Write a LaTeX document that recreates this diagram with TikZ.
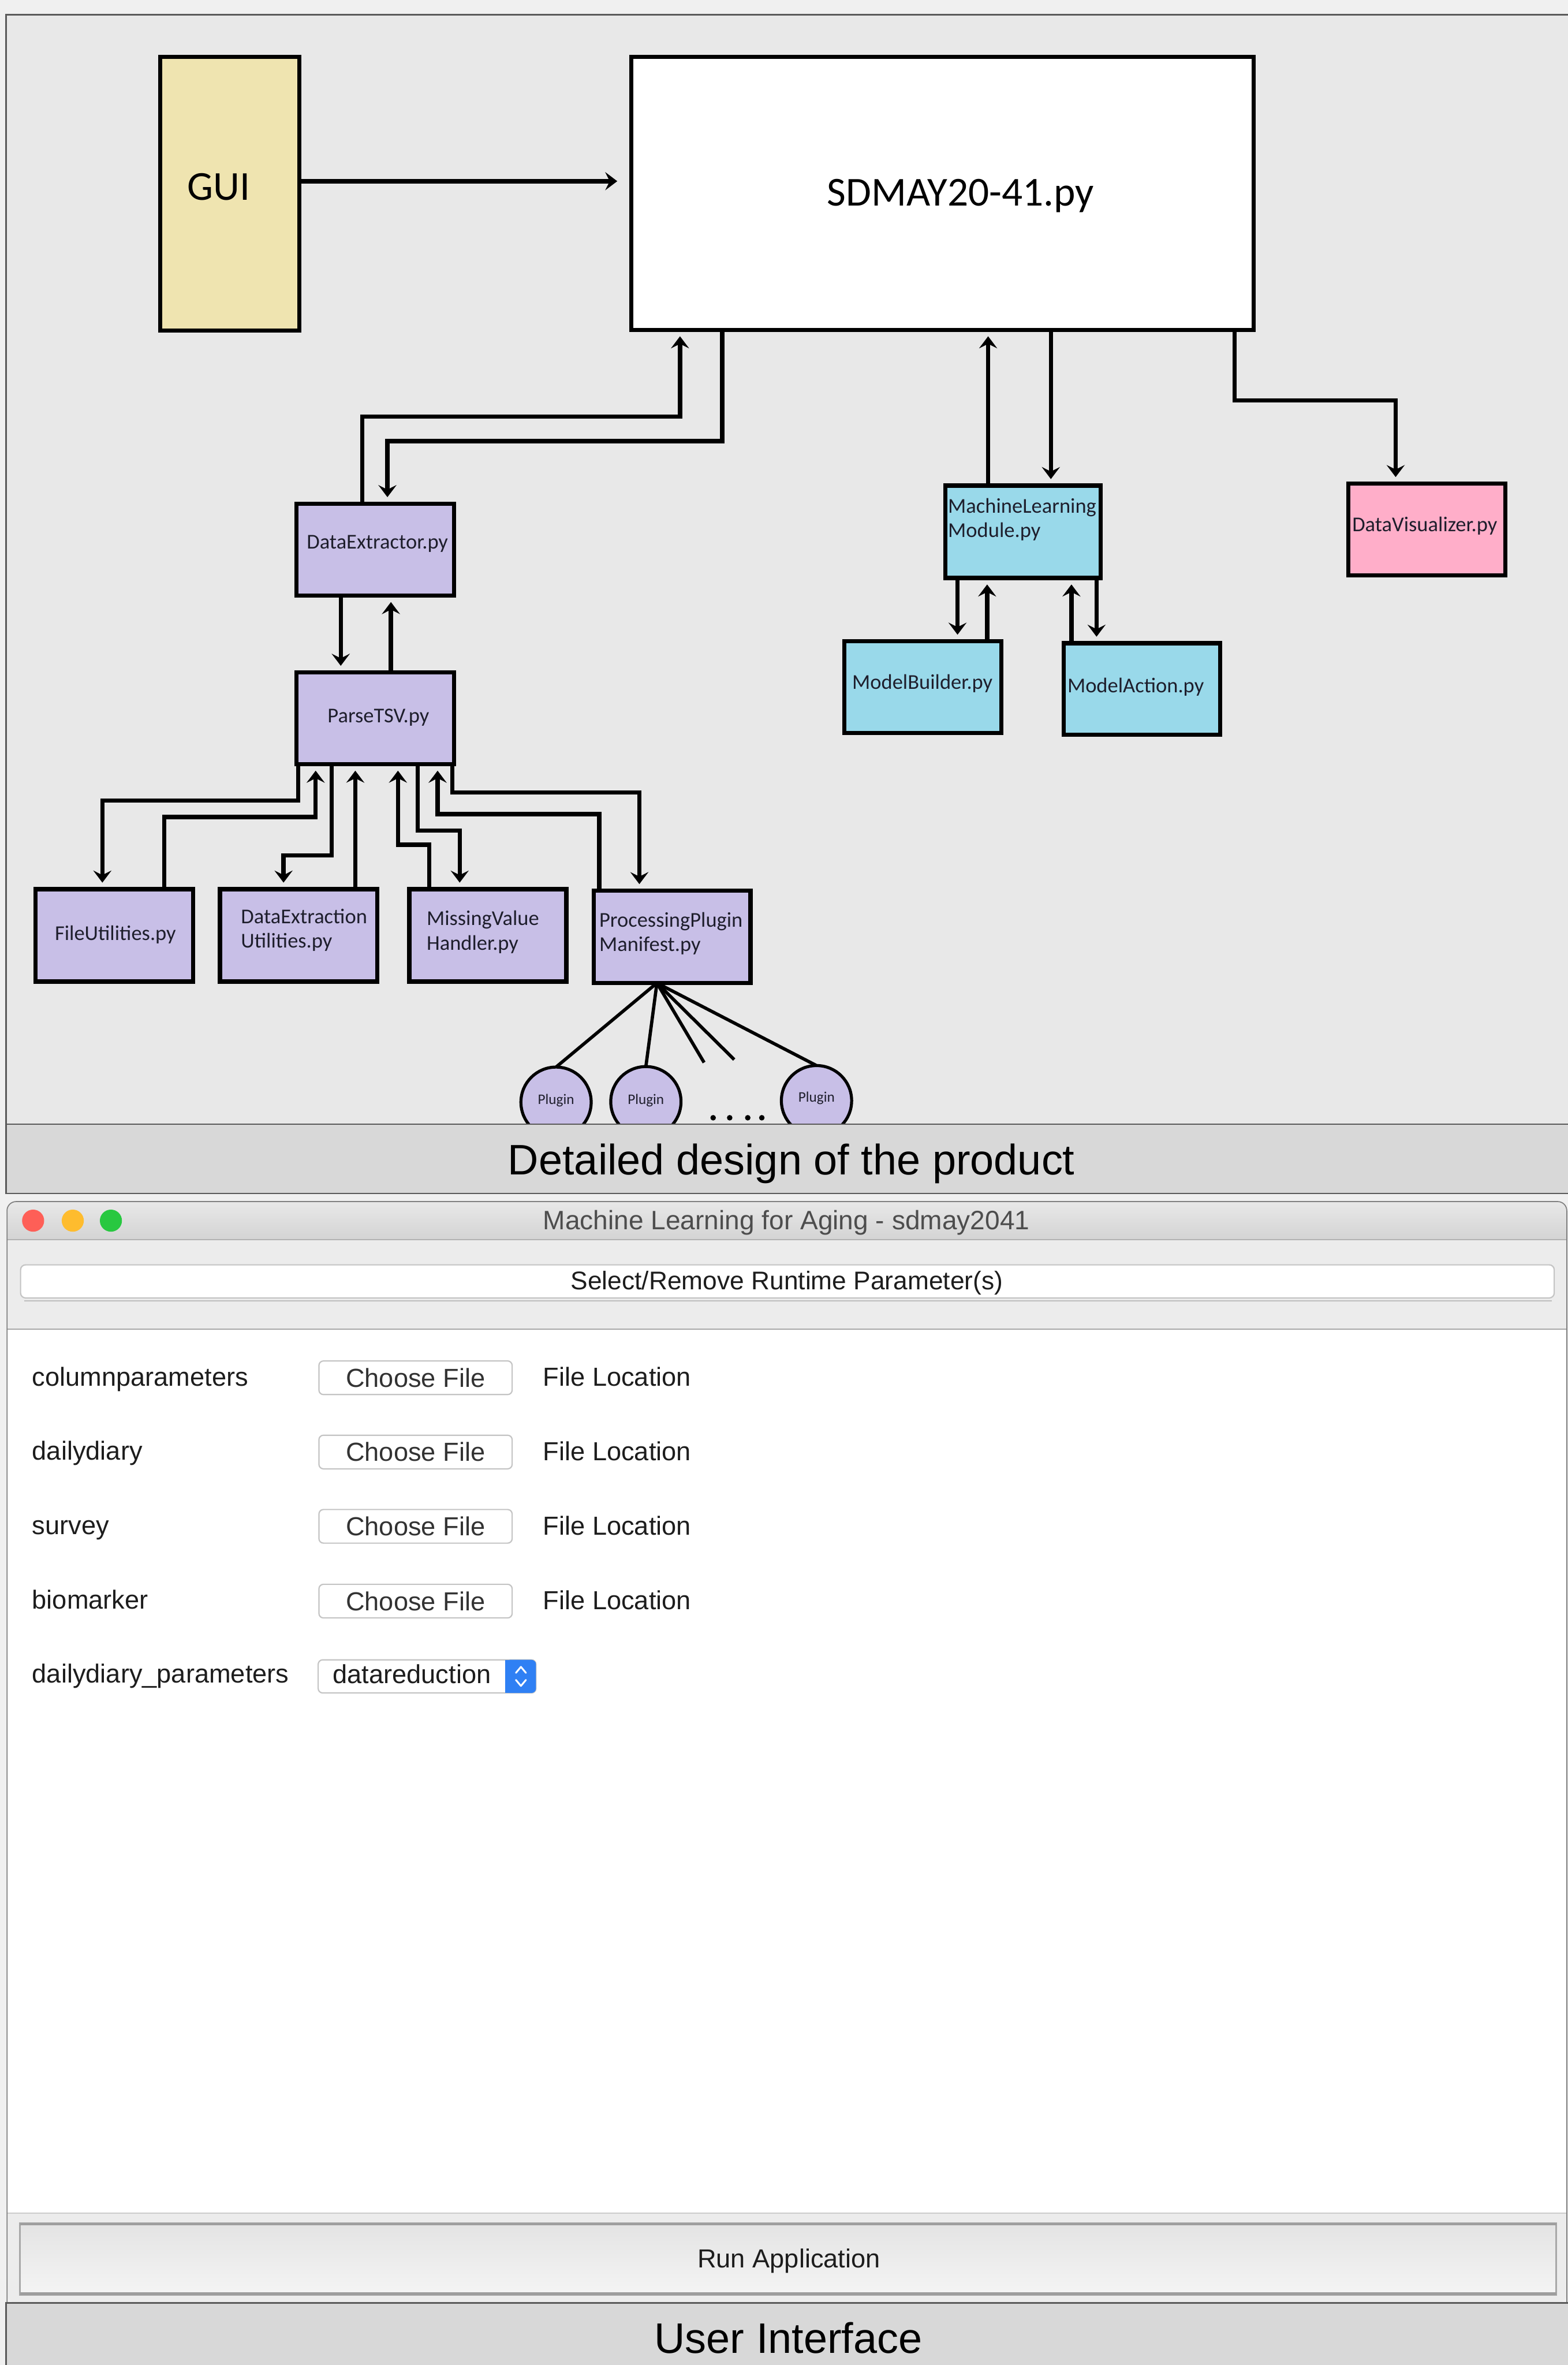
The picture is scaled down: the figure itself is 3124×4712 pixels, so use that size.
\documentclass[tikz,border=0pt]{standalone}
\usepackage{fontspec}
\setmainfont{Liberation Sans}
\newfontfamily\calib{Carlito}
\usetikzlibrary{arrows.meta,calc}
\definecolor{pagebg}{HTML}{F0F0F0}
\definecolor{diagbg}{HTML}{E8E8E8}
\definecolor{bandbg}{HTML}{D8D8D8}
\definecolor{bandline}{HTML}{5A5A5A}
\definecolor{guiyel}{HTML}{EFE4B0}
\definecolor{lav}{HTML}{C8BFE7}
\definecolor{skyb}{HTML}{99D9EA}
\definecolor{pinkc}{HTML}{FFAEC9}
\definecolor{boxtext}{HTML}{1E1E2C}
\definecolor{uitext}{HTML}{1D1D1D}
\definecolor{uibtntext}{HTML}{333333}
\definecolor{uititle}{HTML}{4D4D4D}
\definecolor{uibord}{HTML}{C4C4C4}
\definecolor{uipanel}{HTML}{ECECEC}
\definecolor{ddblue}{HTML}{2F80F4}
\definecolor{tlred}{HTML}{FE5F57}
\definecolor{tlyel}{HTML}{FEBC2E}
\definecolor{tlgrn}{HTML}{28C840}
\tikzset{
  box/.style={draw=black, line width=8.5pt, inner sep=0pt, outer sep=0pt},
  bigbox/.style={draw=black, line width=8pt, inner sep=0pt, outer sep=0pt},
  conn/.style={draw=black, line width=8.5pt},
  arr/.style={-{Stealth[length=24pt,width=36pt,inset=9pt]}, shorten >=13pt},
  dtext/.style={font=\calib\fontsize{42}{49}\selectfont, text=boxtext, inner sep=0pt, align=left},
  bigtext/.style={font=\calib\fontsize{82}{96}\selectfont, text=black, inner sep=0pt},
  plug/.style={draw=black, fill=lav, line width=6pt, circle, inner sep=0pt, outer sep=0pt, minimum size=140pt},
  plugtext/.style={font=\calib\fontsize{29}{34}\selectfont, text=boxtext, inner sep=0pt},
  plugline/.style={draw=black, line width=6.5pt},
  captext/.style={font=\fontsize{85}{100}\selectfont, text=black, inner sep=0pt, anchor=base},
  uilabel/.style={font=\fontsize{52}{60}\selectfont, text=uitext, inner sep=0pt, anchor=base west},
  uibtn/.style={draw=uibord, fill=white, line width=2.5pt, rounded corners=9pt, minimum width=385pt, minimum height=67pt, inner sep=0pt, font=\fontsize{52}{60}\selectfont, text=uibtntext},
}
\begin{document}
\begin{tikzpicture}[x=1pt,y=-1pt]
\useasboundingbox (0,0) rectangle (3124,4712);
% page and panel backgrounds
\fill[pagebg] (0,0) rectangle (3124,4712);
\fill[diagbg] (12,29) rectangle (3124,2240);
\draw[bandline, line width=3pt] (3124,29) -- (12,29) -- (12,2240);

% ---- diagram boxes ----
\node[bigbox, fill=guiyel, minimum width=278pt, minimum height=546pt] (gui) at (458,386) {};
\node[bigtext] (guit) at (436,372) {GUI};
\node[bigbox, fill=white, minimum width=1240pt, minimum height=544pt] (sd) at (1878,385) {};
\node[bigtext] (sdt) at (1914,390) {SDMAY20-41.py};

\node[box, fill=lav, minimum width=314pt, minimum height=183pt] (de) at (747.5,1095) {};
\node[dtext] (det) at (752,1083) {DataExtractor.py};
\node[box, fill=lav, minimum width=314pt, minimum height=183pt] (pt) at (747.5,1431) {};
\node[dtext] (ptt) at (754,1429) {ParseTSV.py};

\node[box, fill=lav, minimum width=314pt, minimum height=184pt] (fu) at (227.5,1863.5) {};
\node[dtext] (fut) at (230,1862) {FileUtilities.py};
\node[box, fill=lav, minimum width=313pt, minimum height=184pt] (deu) at (595,1863.5) {};
\node[dtext, anchor=west] (deut) at (480,1853) {DataExtraction\\Utilities.py};
\node[box, fill=lav, minimum width=313pt, minimum height=184pt] (mvh) at (972,1863.5) {};
\node[dtext, anchor=west] (mvht) at (850,1857) {MissingValue\\Handler.py};
\node[box, fill=lav, minimum width=312pt, minimum height=184pt] (ppm) at (1339.5,1866.5) {};
\node[dtext, anchor=west] (ppmt) at (1194,1860) {ProcessingPlugin\\Manifest.py};

\node[box, fill=skyb, minimum width=310pt, minimum height=184pt] (ml) at (2038.5,1059.5) {};
\node[dtext, anchor=west] (mlt) at (1889,1035) {MachineLearning\\Module.py};
\node[box, fill=pinkc, minimum width=313pt, minimum height=183pt] (dv) at (2843,1055) {};
\node[dtext] (dvt) at (2839,1048) {DataVisualizer.py};
\node[box, fill=skyb, minimum width=313pt, minimum height=183pt] (mb) at (1839,1369) {};
\node[dtext] (mbt) at (1838,1362) {ModelBuilder.py};
\node[box, fill=skyb, minimum width=312pt, minimum height=182pt] (ma) at (2275.5,1372.5) {};
\node[dtext] (mat) at (2263,1369) {ModelAction.py};

% ---- connectors ----
\draw[conn,arr,shorten >=28pt] (gui.east |- 0,361) -- (sd.west |- 0,361);
\draw[conn,arr] (de.north -| 722,0) |- (1355,830) -- (sd.south -| 1355,0);
\draw[conn,arr] (sd.south -| 1439,0) |- (772,879) -- (de.north -| 772,0);
\draw[conn,arr] (de.south -| 679,0) -- (pt.north -| 679,0);
\draw[conn,arr] (pt.north -| 779,0) -- (de.south -| 779,0);

\draw[conn,arr] (pt.south -| 594,0) |- (204,1595) -- (fu.north -| 204,0);
\draw[conn,arr] (fu.north -| 327,0) |- (629,1628) -- (pt.south -| 629,0);
\draw[conn,arr] (pt.south -| 661,0) |- (565,1704) -- (deu.north -| 565,0);
\draw[conn,arr] (deu.north -| 708,0) -- (pt.south -| 708,0);
\draw[conn,arr] (mvh.north -| 855,0) |- (793,1683) -- (pt.south -| 793,0);
\draw[conn,arr] (pt.south -| 832,0) |- (916,1655) -- (mvh.north -| 916,0);
\draw[conn,arr] (ppm.north -| 1194,0) |- (872,1622) -- (pt.south -| 872,0);
\draw[conn,arr] (pt.south -| 901,0) |- (1274,1579) -- (ppm.north -| 1274,0);

\draw[conn,arr] (ml.north -| 1969,0) -- (sd.south -| 1969,0);
\draw[conn,arr] (sd.south -| 2094,0) -- (ml.north -| 2094,0);
\draw[conn,arr] (sd.south -| 2460,0) |- (2781,798) -- (dv.north -| 2781,0);
\draw[conn,arr] (ml.south -| 1908,0) -- (mb.north -| 1908,0);
\draw[conn,arr] (mb.north -| 1967,0) -- (ml.south -| 1967,0);
\draw[conn,arr] (ma.north -| 2135,0) -- (ml.south -| 2135,0);
\draw[conn,arr] (ml.south -| 2185,0) -- (ma.north -| 2185,0);

% ---- plugins ----
\node[plug] (p1) at (1108,2196) {};
\node[plugtext] (p1t) at (1108,2193) {Plugin};
\node[plug] (p2) at (1287,2195) {};
\node[plugtext] (p2t) at (1287,2193) {Plugin};
\node[plug] (p3) at (1627,2193) {};
\node[plugtext] (p3t) at (1627,2188) {Plugin};
\coordinate (fan) at (1309,1963);
\coordinate (f1) at (1403,2117);
\coordinate (f2) at (1463,2111);
\draw[plugline] (ppm.south -| fan) -- (p1.north);
\draw[plugline] (ppm.south -| fan) -- (p2.north);
\draw[plugline] (ppm.south -| fan) -- (f1);
\draw[plugline] (ppm.south -| fan) -- (f2);
\draw[plugline] (ppm.south -| fan) -- (p3.north);
\foreach \dx in {1421,1454,1490,1518} \fill[black] (\dx,2227) circle (5.5pt);

% ---- caption band 1 ----
\fill[bandbg] (12,2240) rectangle (3124,2378);
\draw[bandline, line width=3pt] (3124,2240) -- (12,2240) -- (12,2378) -- (3124,2378);
\node[captext] (cap1) at (1577,2340) {Detailed design of the product};

% ---- window ----
\fill[uipanel, rounded corners=18pt] (14,2394) rectangle (3122,4588);
\shade[top color=white!91!black, bottom color=white!83!black] (14,2470) [rounded corners=18pt] -- (14,2394) -- (3122,2394) [sharp corners] -- (3122,2470) -- cycle;
\draw[white!70!black, line width=2pt] (14,2470) -- (3122,2470);
\fill[tlred] (66,2432) circle (22pt);
\fill[tlyel] (145,2432) circle (22pt);
\fill[tlgrn] (221,2432) circle (22pt);
\node[font=\fontsize{53}{60}\selectfont, text=uititle, inner sep=0pt, anchor=base] (wtitle) at (1567,2450) {Machine Learning for Aging - sdmay2041};

\draw[white!74!black, line width=3pt] (48,2592) -- (3092,2592);
\node[draw=uibord, fill=white, line width=2.5pt, rounded corners=10pt, minimum width=3056pt, minimum height=66pt, inner sep=0pt] (selbtn) at (1569,2553) {};
\node[font=\fontsize{51}{60}\selectfont, text=uitext, inner sep=0pt, anchor=base] (seltext) at (1568,2569) {Select/Remove Runtime Parameter(s)};

\fill[white] (14,2648) rectangle (3122,4409);
\draw[white!66!black, line width=3pt] (14,2648) -- (3122,2648);
\draw[white!80!black, line width=2pt] (14,4409) -- (3122,4409);

% rows
\node[uilabel] (l1) at (64,2761) {columnparameters};
\node[uibtn] (b1) at (828,2745) {Choose File};
\node[uilabel] (fl1) at (1082,2762) {File Location};
\node[uilabel] (l2) at (64,2909) {dailydiary};
\node[uibtn] (b2) at (828,2893) {Choose File};
\node[uilabel] (fl2) at (1082,2910) {File Location};
\node[uilabel] (l3) at (64,3057) {survey};
\node[uibtn] (b3) at (828,3041) {Choose File};
\node[uilabel] (fl3) at (1082,3058) {File Location};
\node[uilabel] (l4) at (64,3205) {biomarker};
\node[uibtn] (b4) at (828,3190) {Choose File};
\node[uilabel] (fl4) at (1082,3207) {File Location};
\node[uilabel] (l5) at (64,3353) {dailydiary\_parameters};
\node[draw=uibord, fill=white, line width=2.5pt, rounded corners=9pt, minimum width=434pt, minimum height=66pt, inner sep=0pt] (dd) at (851,3340) {};
\fill[ddblue, rounded corners=9pt] (1007,3307) rectangle (1068,3373);
\fill[ddblue] (1007,3307) rectangle (1035,3373);
\draw[white, line width=3.5pt, line cap=round, line join=round] (1028,3333) -- (1038,3321) -- (1048,3333);
\draw[white, line width=3.5pt, line cap=round, line join=round] (1028,3347) -- (1038,3359) -- (1048,3347);
\node[uilabel] (ddt) at (663,3354) {datareduction};

% run button
\shade[top color=white!89!black, bottom color=white!96!black, draw=white!66!black, line width=3pt] (40,4429) rectangle (3101,4572);
\draw[white!62!black, line width=5pt] (40,4431) -- (3101,4431);
\draw[white!62!black, line width=5pt] (40,4570) -- (3101,4570);
\node[font=\fontsize{52}{60}\selectfont, text=uitext, inner sep=0pt, anchor=base] (runbtn) at (1572,4518) {Run Application};
\draw[white!50!black, line width=2pt, rounded corners=18pt] (14,4588) -- (14,2394) -- (3122,2394) -- (3122,4588);

% ---- caption band 2 ----
\fill[bandbg] (12,4588) rectangle (3124,4712);
\draw[bandline, line width=3pt] (3124,4588) -- (12,4588) -- (12,4712);
\node[captext] (cap2) at (1571,4688) {User Interface};
\end{tikzpicture}
\end{document}
